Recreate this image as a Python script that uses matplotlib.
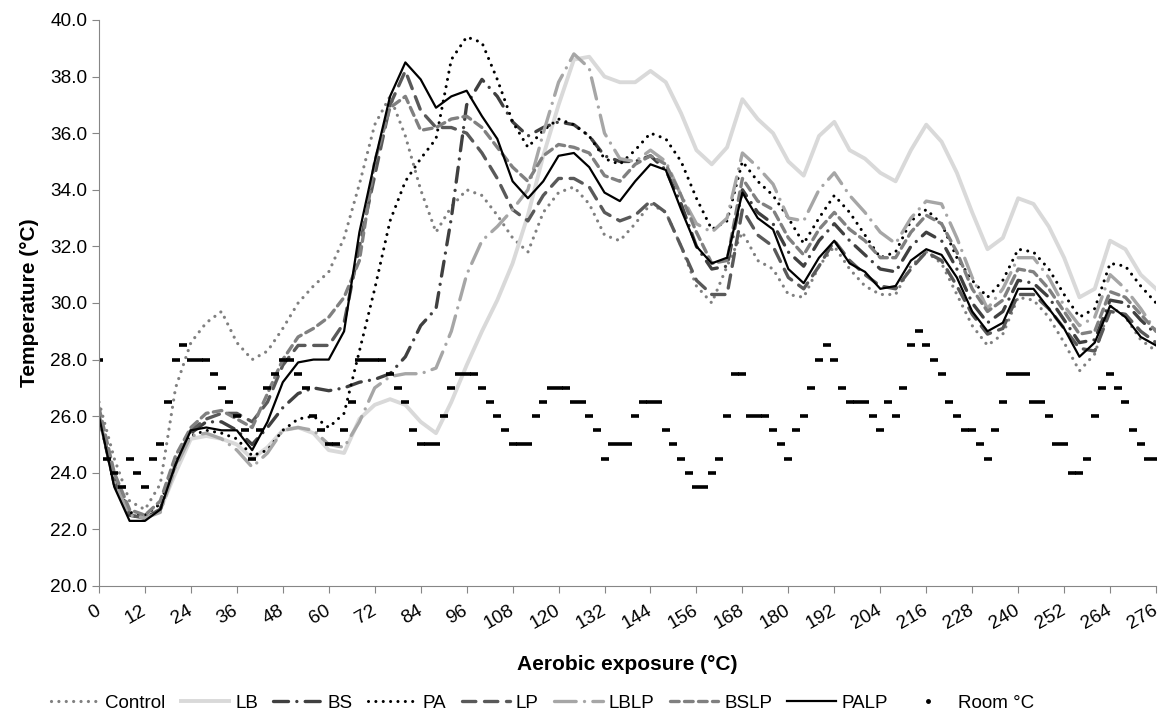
import numpy as np
import matplotlib
matplotlib.use("Agg")
import matplotlib.pyplot as plt
from matplotlib.lines import Line2D

plt.rcParams['font.family'] = ['Liberation Sans', 'DejaVu Sans']

# hours of aerobic exposure (4 h steps for the silage curves)
hours = np.arange(0, 277, 4)

control = [26.5, 24.5, 23.0, 22.7, 23.6, 27.0, 28.6, 29.3, 29.7, 28.6, 28.0, 28.3,
           29.1, 30.0, 30.6, 31.1, 32.3, 34.2, 36.3, 37.3, 35.9, 34.0, 32.5, 33.4,
           34.0, 33.8, 33.1, 32.3, 31.8, 33.2, 33.9, 34.1, 33.5, 32.4, 32.2, 32.8,
           33.5, 33.2, 32.0, 30.6, 30.0, 31.3, 32.5, 31.5, 31.2, 30.3, 30.2, 31.3,
           32.0, 31.2, 30.6, 30.3, 30.3, 31.3, 31.8, 31.4, 30.3, 29.2, 28.5, 28.9,
           30.2, 30.1, 29.5, 28.6, 27.6, 28.2, 29.9, 29.5, 28.7, 28.3]
lb = [26.0, 23.7, 22.6, 22.5, 22.7, 24.0, 25.2, 25.3, 25.2, 25.0, 24.5, 24.9,
      25.5, 25.6, 25.4, 24.8, 24.7, 25.9, 26.4, 26.6, 26.4, 25.8, 25.4, 26.5,
      27.8, 29.0, 30.1, 31.4, 33.1, 35.2, 37.0, 38.6, 38.7, 38.0, 37.8, 37.8,
      38.2, 37.8, 36.7, 35.4, 34.9, 35.5, 37.2, 36.5, 36.0, 35.0, 34.5, 35.9,
      36.4, 35.4, 35.1, 34.6, 34.3, 35.4, 36.3, 35.7, 34.6, 33.2, 31.9, 32.3,
      33.7, 33.5, 32.7, 31.6, 30.2, 30.5, 32.2, 31.9, 31.0, 30.5]
bs = [26.0, 23.6, 22.5, 22.4, 22.7, 24.3, 25.4, 25.8, 25.8, 25.5, 25.0, 25.6,
      26.3, 26.8, 27.0, 26.9, 27.0, 27.2, 27.3, 27.5, 28.1, 29.2, 29.8, 33.0,
      37.0, 37.9, 37.3, 36.4, 35.9, 36.2, 36.4, 36.3, 35.9, 35.2, 35.0, 35.0,
      35.2, 34.7, 33.5, 32.0, 31.2, 31.3, 34.0, 33.2, 32.8, 31.8, 31.3, 32.2,
      32.8, 32.2, 31.7, 31.2, 31.1, 32.0, 32.5, 32.2, 31.2, 30.0, 29.3, 29.7,
      30.8, 30.7, 30.2, 29.4, 28.6, 28.7, 30.1, 30.0, 29.4, 28.9]
pa = [26.0, 23.8, 22.6, 22.5, 22.9, 24.4, 25.3, 25.5, 25.4, 25.2, 24.6, 24.8,
      25.5, 25.9, 26.0, 25.6, 26.1, 28.3, 30.5, 32.9, 34.3, 35.1, 35.8, 38.6,
      39.4, 39.2, 37.9, 36.4, 35.5, 36.1, 36.5, 36.3, 35.9, 35.1, 34.9, 35.4,
      36.0, 35.8, 35.0, 33.7, 32.6, 32.9, 35.0, 34.3, 33.8, 33.0, 32.1, 33.0,
      33.8, 33.2, 32.4, 31.6, 31.8, 32.9, 33.3, 32.8, 31.6, 30.8, 30.2, 30.8,
      31.9, 31.8, 31.2, 30.3, 29.5, 29.8, 31.4, 31.3, 30.6, 30.0]
lp = [26.0, 23.7, 22.5, 22.4, 22.7, 24.3, 25.5, 25.9, 26.1, 26.1, 25.8, 26.5,
      27.8, 28.5, 28.5, 28.5, 29.3, 32.0, 34.5, 37.0, 38.2, 36.8, 36.2, 36.2,
      36.0, 35.3, 34.4, 33.3, 32.9, 33.8, 34.4, 34.4, 34.1, 33.2, 32.9, 33.1,
      33.6, 33.2, 32.0, 30.8, 30.3, 30.3, 33.3, 32.4, 32.0, 30.9, 30.5, 31.3,
      32.2, 31.5, 31.0, 30.6, 30.5, 31.2, 31.8, 31.5, 30.6, 29.6, 28.9, 29.1,
      30.3, 30.3, 29.8, 29.1, 28.4, 28.3, 29.7, 29.6, 29.0, 28.6]
lblp = [26.0, 23.7, 22.5, 22.4, 22.6, 24.2, 25.3, 25.4, 25.2, 24.8, 24.2, 24.7,
        25.5, 25.6, 25.5, 25.0, 24.9, 25.8, 27.0, 27.4, 27.5, 27.5, 27.7, 29.0,
        31.0, 32.2, 32.7, 33.3, 34.0, 36.0, 37.8, 38.8, 38.3, 36.0, 35.1, 35.0,
        35.4, 35.0, 33.8, 32.8, 32.5, 33.0, 35.3, 34.8, 34.2, 33.0, 32.9, 34.0,
        34.6, 33.8, 33.2, 32.5, 32.1, 33.0, 33.6, 33.5, 32.3, 30.9, 29.8, 30.5,
        31.6, 31.6, 30.9, 29.9, 29.2, 29.5, 31.0, 30.5, 29.8, 29.0]
bslp = [26.3, 24.0, 22.7, 22.5, 23.0, 24.6, 25.6, 26.1, 26.2, 25.9, 25.6, 26.8,
        28.0, 28.8, 29.1, 29.5, 30.2, 31.5, 35.0, 36.9, 37.3, 36.1, 36.2, 36.5,
        36.6, 36.2, 35.5, 34.8, 34.3, 35.2, 35.6, 35.5, 35.3, 34.5, 34.3, 34.9,
        35.2, 34.9, 33.8, 32.5, 31.4, 31.5, 34.4, 33.6, 33.3, 32.3, 31.7, 32.6,
        33.2, 32.6, 32.2, 31.6, 31.6, 32.5, 33.1, 32.8, 31.8, 30.5, 29.7, 30.1,
        31.2, 31.1, 30.5, 29.7, 28.9, 29.0, 30.4, 30.2, 29.6, 29.0]
palp = [26.0, 23.5, 22.3, 22.3, 22.7, 24.3, 25.5, 25.6, 25.5, 25.5, 24.8, 25.8,
        27.2, 27.9, 28.0, 28.0, 29.0, 32.5, 35.0, 37.3, 38.5, 37.9, 36.9, 37.3,
        37.5, 36.6, 35.8, 34.3, 33.7, 34.3, 35.2, 35.3, 34.8, 33.9, 33.6, 34.3,
        34.9, 34.7, 33.3, 32.0, 31.4, 31.6, 33.9, 33.0, 32.6, 31.2, 30.7, 31.6,
        32.2, 31.4, 31.1, 30.5, 30.6, 31.5, 31.9, 31.7, 30.9, 29.7, 29.0, 29.3,
        30.5, 30.5, 29.8, 29.1, 28.1, 28.6, 29.9, 29.5, 28.8, 28.5]

# room temperature, 2 h steps
room_hours = np.arange(0, 277, 2)
room = [28.0, 24.5, 24.0, 23.5, 24.5, 24.0, 23.5, 24.5, 25.0, 26.5, 28.0, 28.5,
        28.0, 28.0, 28.0, 27.5, 27.0, 26.5, 26.0, 25.5, 24.5, 25.5, 27.0, 27.5,
        28.0, 28.0, 27.5, 27.0, 26.0, 25.5, 25.0, 25.0, 25.5, 26.5, 28.0, 28.0,
        28.0, 28.0, 27.5, 27.0, 26.5, 25.5, 25.0, 25.0, 25.0, 26.0, 27.0, 27.5,
        27.5, 27.5, 27.0, 26.5, 26.0, 25.5, 25.0, 25.0, 25.0, 26.0, 26.5, 27.0,
        27.0, 27.0, 26.5, 26.5, 26.0, 25.5, 24.5, 25.0, 25.0, 25.0, 26.0, 26.5,
        26.5, 26.5, 25.5, 25.0, 24.5, 24.0, 23.5, 23.5, 24.0, 24.5, 26.0, 27.5,
        27.5, 26.0, 26.0, 26.0, 25.5, 25.0, 24.5, 25.5, 26.0, 27.0, 28.0, 28.5,
        28.0, 27.0, 26.5, 26.5, 26.5, 26.0, 25.5, 26.5, 26.0, 27.0, 28.5, 29.0,
        28.5, 28.0, 27.5, 26.5, 26.0, 25.5, 25.5, 25.0, 24.5, 25.5, 26.5, 27.5,
        27.5, 27.5, 26.5, 26.5, 26.0, 25.0, 25.0, 24.0, 24.0, 24.5, 26.0, 27.0,
        27.5, 27.0, 26.5, 25.5, 25.0, 24.5, 24.5]

fig = plt.figure(figsize=(11.74, 7.16), dpi=100)
ax = fig.add_axes([0.0843, 0.1816, 0.9004, 0.7905])

ax.plot(hours, control, color='#808080', lw=2.3, linestyle=(0, (0.01, 2.3)),
        dash_capstyle='round', label='Control')
ax.plot(hours, lb, color='#d9d9d9', lw=2.8, label='LB')
ax.plot(hours, bs, color='#404040', lw=2.4, linestyle=(0, (4.5, 2.5, 0.01, 2.5)),
        dash_capstyle='round', label='BS')
ax.plot(hours, pa, color='black', lw=2.2, linestyle=(0, (0.01, 2.4)),
        dash_capstyle='round', label='PA')
ax.plot(hours, lp, color='#595959', lw=2.4, linestyle=(0, (4.0, 2.6)),
        dash_capstyle='round', label='LP')
ax.plot(hours, lblp, color='#a6a6a6', lw=2.4, linestyle=(0, (6.5, 2.5, 0.01, 2.5)),
        dash_capstyle='round', label='LBLP')
ax.plot(hours, bslp, color='#808080', lw=2.4, linestyle=(0, (2.6, 1.6)),
        dash_capstyle='round', label='BSLP')
ax.plot(hours, palp, color='black', lw=1.6, label='PALP')
ax.plot(room_hours, room, linestyle='none', marker='_', markersize=5.5,
        markeredgewidth=2.6, color='black')

ax.set_xlim(0, 276)
ax.set_ylim(20, 40)
ax.set_xticks(np.arange(0, 277, 12))
ax.set_yticks(np.arange(20, 40.1, 2))
ax.set_yticklabels([f'{v:.1f}' for v in np.arange(20, 40.1, 2)])

for side in ['top', 'right']:
    ax.spines[side].set_visible(False)
for side in ['left', 'bottom']:
    ax.spines[side].set_color('#868686')
ax.tick_params(axis='both', colors='#868686', labelcolor='black', labelsize=13.7,
               direction='out', length=5)
plt.setp(ax.get_xticklabels(), rotation=30, ha='right', va='center',
         rotation_mode='anchor')
ax.tick_params(axis='x', pad=12)

ax.set_xlabel('Aerobic exposure (°C)', fontsize=15, fontweight='bold', labelpad=16)
ax.set_ylabel('Temperature (°C)', fontsize=15, fontweight='bold', labelpad=8)

handles, labels = ax.get_legend_handles_labels()
handles.append(Line2D([], [], linestyle='none', marker='o', markersize=2.5, color='black'))
labels.append('Room °C')
fig.legend(handles, labels, loc='lower center', bbox_to_anchor=(0.462, -0.018),
           ncol=9, frameon=False, fontsize=13.5, handlelength=2.6, handletextpad=0.3,
           columnspacing=0.82)

fig.savefig('out.png', dpi=100)
